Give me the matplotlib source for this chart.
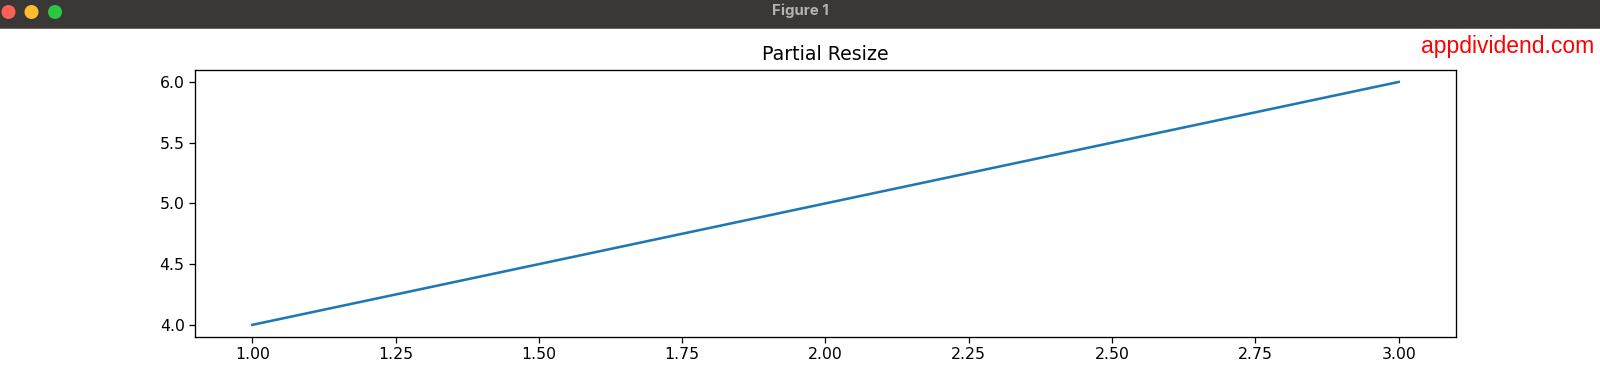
import matplotlib
matplotlib.use("Agg")
import matplotlib.pyplot as plt
from matplotlib.patches import Circle, Rectangle

x_values = [1, 2, 3]
y_values = [4, 5, 6]
chart_title = "Partial Resize"
window_title = "Figure 1"
watermark = "appdividend.com"

W, H = 1600, 370
fig = plt.figure(figsize=(W / 100, H / 100), dpi=100, facecolor="white")

# window chrome, in pixel coordinates
chrome = fig.add_axes([0, 0, 1, 1], zorder=0)
chrome.set_xlim(0, W)
chrome.set_ylim(H, 0)
chrome.axis("off")
chrome.add_patch(Rectangle((0, 0), W, 28, facecolor="#3a3836", edgecolor="none"))
chrome.add_patch(Rectangle((0, 27.5), W, 1.2, facecolor="#6b6a68", edgecolor="none"))
for cx, colour in zip((8.5, 31.5, 55), ("#fe5f57", "#febc2e", "#28c840")):
    chrome.add_patch(Circle((cx, 12), 7, facecolor=colour, edgecolor="none"))
chrome.text(800, 10.5, window_title, color="#b5b3b1", fontsize=10.8, fontweight="bold",
            family="Inter", ha="center", va="center")
chrome.text(1594, 47, watermark, color="#ff0000", fontsize=16.5,
            family="Liberation Sans", ha="right", va="center")

ax = fig.add_axes([195 / W, 1 - 337 / H, (1456 - 195) / W, (337 - 69.8) / H], zorder=1)
ax.patch.set_alpha(0)
ax.plot(x_values, y_values, color="#1f77b4", linewidth=1.85)
ax.set_title(chart_title, fontsize=13.7, pad=7)
ax.tick_params(labelsize=11.3, length=4, width=0.9, pad=3.5)
for s in ax.spines.values():
    s.set_linewidth(0.95)

fig.savefig("out.png", dpi=100)
